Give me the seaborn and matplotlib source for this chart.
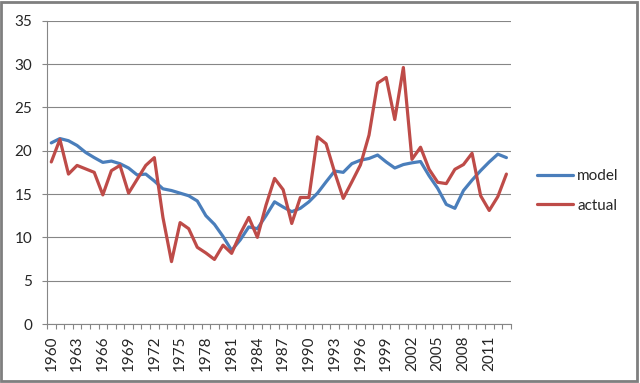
import matplotlib
matplotlib.use("Agg")
import matplotlib.pyplot as plt
import seaborn as sns
import pandas as pd
import numpy as np
from matplotlib.patches import Rectangle

years = list(range(1960, 2014))

model = [20.9, 21.4, 21.15, 20.6, 19.8, 19.2, 18.65, 18.8, 18.5, 18.0,
         17.2, 17.3, 16.5, 15.6, 15.4, 15.1, 14.8, 14.2, 12.5, 11.5,
         10.1, 8.5, 9.7, 11.2, 11.0, 12.5, 14.1, 13.5, 12.96, 13.35,
         14.1, 15.1, 16.4, 17.65, 17.5, 18.5, 18.9, 19.1, 19.5, 18.7,
         18.0, 18.4, 18.6, 18.75, 17.1, 15.65, 13.8, 13.35, 15.4, 16.6,
         17.7, 18.7, 19.6, 19.2]

actual = [18.7, 21.3, 17.3, 18.3, 17.9, 17.5, 14.9, 17.7, 18.3, 15.1,
          16.7, 18.3, 19.2, 12.3, 7.2, 11.7, 11.0, 8.85, 8.2, 7.45,
          9.1, 8.15, 10.4, 12.3, 10.0, 13.7, 16.8, 15.5, 11.6, 14.6,
          14.6, 21.6, 20.8, 17.5, 14.5, 16.4, 18.35, 21.8, 27.8, 28.45,
          23.6, 29.6, 19.0, 20.4, 17.85, 16.35, 16.2, 17.85, 18.4, 19.7,
          14.8, 13.1, 14.7, 17.3]

df = pd.DataFrame({
    'year': years * 2,
    'value': model + actual,
    'series': ['model'] * len(years) + ['actual'] * len(years),
})

sns.set_style('white')
plt.rcParams['font.family'] = ['Lato', 'DejaVu Sans']

grey = '#868686'
txt = '#262626'

fig = plt.figure(figsize=(6.4, 3.83), dpi=100)
ax = fig.add_axes([47 / 640, 1 - 324 / 383, (510.7 - 47) / 640, (324 - 20.7) / 383])

sns.lineplot(data=df, x='year', y='value', hue='series',
             palette={'model': '#4A7EBB', 'actual': '#BE4B48'},
             linewidth=2.3, ax=ax, legend=True)

ax.set_xlim(1959.5, 2013.5)
ax.set_ylim(0, 35)
ax.set_yticks(range(0, 36, 5))
ax.set_xticks(range(1960, 2013, 3))
ax.set_xticks(np.arange(1959.5, 2014, 1), minor=True)
ax.set_xticklabels([str(y) for y in range(1960, 2013, 3)], rotation=90)
ax.set_xlabel('')
ax.set_ylabel('')

ax.yaxis.grid(True, color=grey, linewidth=0.8)
ax.set_axisbelow(True)
for s in ['top', 'right']:
    ax.spines[s].set_visible(False)
for s in ['left', 'bottom']:
    ax.spines[s].set_color(grey)
    ax.spines[s].set_linewidth(0.8)

ax.tick_params(axis='y', which='major', length=3.6, color=grey, width=0.8,
               labelsize=11, labelcolor=txt, pad=7, left=True)
ax.tick_params(axis='x', which='major', length=0, labelsize=11,
               labelcolor=txt, pad=8)
ax.tick_params(axis='x', which='minor', length=3.6, color=grey, width=0.8,
               bottom=True)

leg = ax.legend(loc='center left', bbox_to_anchor=(536.7 / 640, 1 - 191 / 383),
                bbox_transform=fig.transFigure, frameon=False, fontsize=11,
                handlelength=2.4, handletextpad=0.25, labelspacing=1.0,
                borderpad=0, borderaxespad=0)
for t in leg.get_texts():
    t.set_color(txt)

fig.patches.append(Rectangle((0.002, 0.004), 0.994, 0.992, transform=fig.transFigure,
                             fill=False, edgecolor='#7f7f7f', linewidth=2))

fig.savefig('out.png', dpi=100)
